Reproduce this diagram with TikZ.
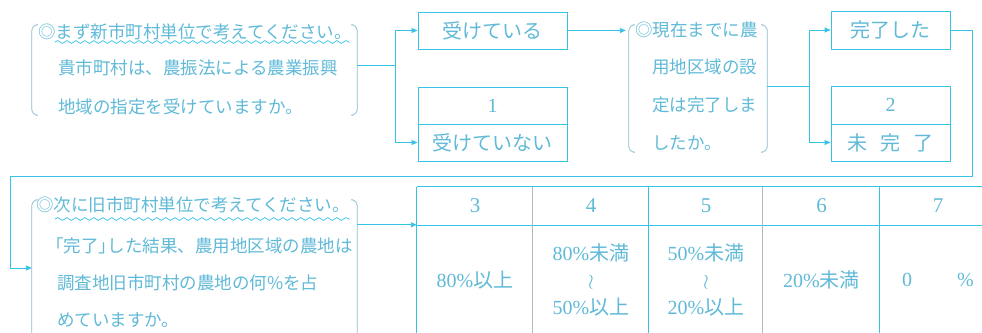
\documentclass[tikz,border=0pt]{standalone}
\usepackage{fontspec}
\setmainfont{Liberation Serif}
\newfontfamily\jp{Noto Sans CJK JP}
\usetikzlibrary{arrows.meta,decorations.pathmorphing}
\definecolor{lineC}{RGB}{55,195,230}
\definecolor{grayC}{RGB}{175,185,190}
\definecolor{textC}{RGB}{95,185,215}
\definecolor{parenC}{RGB}{140,190,205}
\newcommand\J[1]{{\jp #1}}
\newcommand\qparens[1]{%
  \draw[paren] ([xshift=4pt]#1.north west) -- (#1.north west) -- (#1.south west) -- ([xshift=4pt]#1.south west);
  \draw[paren] ([xshift=-4pt]#1.north east) -- (#1.north east) -- (#1.south east) -- ([xshift=-4pt]#1.south east);}
\begin{document}
\begin{tikzpicture}[x=1pt,y=-1pt,
  cy/.style={draw=lineC,line width=0.9pt},
  gy/.style={draw=grayC,line width=0.8pt},
  arr/.style={cy,-{Triangle[length=6pt,width=5pt]}},
  paren/.style={draw=parenC,line width=0.8pt,rounded corners=6pt},
  qtext/.style={anchor=west,inner sep=0pt,text=textC,font=\fontsize{17.5}{20}\selectfont\jp},
  boxnode/.style={cy,inner sep=0pt,minimum width=149pt,minimum height=37pt,text=textC,font=\fontsize{20}{22}\selectfont\jp},
  boxnodeb/.style={boxnode,minimum width=119pt},
  numnode/.style={boxnode,font=\fontsize{20}{22}\selectfont},
  numnodeb/.style={numnode,minimum width=119pt},
  region/.style={inner sep=0pt},
  wavy/.style={draw=lineC,line width=0.7pt,decorate,decoration={snake,amplitude=1.4pt,segment length=9pt}},
  hdr/.style={inner sep=0pt,minimum height=38pt,text=textC,font=\fontsize{21}{24}\selectfont},
  cellnode/.style={inner sep=0pt,minimum height=110pt,text=textC,align=center,font=\fontsize{20}{27}\selectfont}
]
\useasboundingbox (0,0) rectangle (982,332);
\clip (0,0) rectangle (982,332);

% ---------- question 1 ----------
\node[region,minimum width=325pt,minimum height=90pt] (q1) at (194.5,70) {};
\qparens{q1}
\node[qtext] (t1a) at (38,32) {◎まず新市町村単位で考えてください。};
\node[qtext] (t1b) at (58,68) {貴市町村は、農振法による農業振興};
\node[qtext] (t1c) at (58,107) {地域の指定を受けていますか。};
\coordinate (w1a) at (55,42);
\coordinate (w1b) at (350,42);
\draw[wavy] (w1a) -- (w1b);

% ---------- answer boxes 1 ----------
\node[boxnode] (b1) at (492.5,30.5) {受けている};
\node[numnode] (b2top) at (492.5,105.5) {1};
\node[boxnode] (b2bot) at (492.5,142.5) {受けていない};

% ---------- question 2 ----------
\node[region,minimum width=138pt,minimum height=127pt] (q2) at (698,88.5) {};
\qparens{q2}
\node[qtext] (t2a) at (635,30) {◎現在までに農};
\node[qtext] (t2b) at (652,67) {用地区域の設};
\node[qtext] (t2c) at (652,105) {定は完了しま};
\node[qtext] (t2d) at (652,143) {したか。};

% ---------- answer boxes 2 ----------
\node[boxnodeb,minimum height=38pt] (b3) at (890.5,30) {完了した};
\node[numnodeb,minimum height=38pt] (b4top) at (890.5,105) {2};
\node[boxnodeb] (b4bot) at (890.5,142.5) {未\hspace{13pt}完\hspace{13pt}了};

% ---------- question 3 ----------
\node[region,minimum width=325pt,minimum height=145pt] (q3) at (194.5,272.5) {};
\qparens{q3}
\node[qtext] (t3a) at (36,205) {◎次に旧市町村単位で考えてください。};
\node[qtext] (t3b) at (55,246) {\kern-0.5em「完了」\kern-0.5em した結果、農用地区域の農地は};
\node[qtext] (t3c) at (57,283) {調査地旧市町村の農地の何\%を占};
\node[qtext] (t3d) at (57,320) {めていますか。};
\coordinate (w3a) at (55,219);
\coordinate (w3b) at (350,219);
\draw[wavy] (w3a) -- (w3b);

% ---------- table ----------
\node[hdr,minimum width=116pt] (h3) at (475,206) {3};
\node[hdr,minimum width=116pt] (h4) at (591,206) {4};
\node[hdr,minimum width=114pt] (h5) at (706,206) {5};
\node[hdr,minimum width=117pt] (h6) at (821.5,206) {6};
\node[hdr,minimum width=116pt] (h7) at (938,206) {7};
\node[cellnode,minimum width=116pt] (c3) at (475,280) {80\%\J{以上}};
\node[cellnode,minimum width=116pt] (c4) at (591,280) {80\%\J{未満}\\$\wr$\\50\%\J{以上}};
\node[cellnode,minimum width=114pt] (c5) at (706,280) {50\%\J{未満}\\$\wr$\\20\%\J{以上}};
\node[cellnode,minimum width=117pt] (c6) at (821.5,280) {20\%\J{未満}};
\node[cellnode,minimum width=116pt] (c7) at (938,280) {0\hspace{45pt}\%};
\draw[cy] (h3.north west) -- (h7.north east);
\draw[cy] (h3.south west) -- (h7.south east);
\draw[cy] (h3.north west) -- (c3.south west);
\draw[gy] (h4.north west) -- (c4.south west);
\draw[cy] (h5.north west) -- (c5.south west);
\draw[gy] (h6.north west) -- (c6.south west);
\draw[cy] (h7.north west) -- (c7.south west);
\draw[cy] (h7.north east) -- (c7.south east);

% ---------- connectors ----------
\coordinate (j1) at (395,65);
\draw[cy] (q1.east |- j1) -- (j1);
\draw[arr] (j1) |- (b1.west);
\draw[arr] (j1) |- (b2bot.west);
\draw[arr,shorten >=3pt] (b1.east) -- (q2.west |- b1.east);
\coordinate (j2) at (809,86);
\draw[cy] (q2.east |- j2) -- (j2);
\draw[arr] (j2) |- (b3.west);
\draw[arr] (j2) |- (b4bot.west);
\coordinate (r1) at (972,176);
\coordinate (r3) at (10,268);
\draw[arr] (b3.east) -| (r1) -| (r3) -- (q3.west |- r3);
\draw[arr] (q3.east |- c3.north west) -- (c3.north west);
\end{tikzpicture}
\end{document}
